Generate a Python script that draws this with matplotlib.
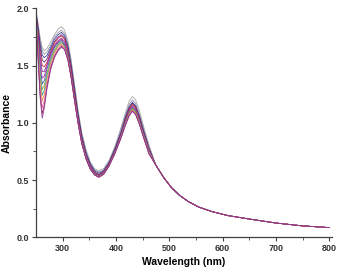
import numpy as np
import matplotlib
matplotlib.use("Agg")
import matplotlib.pyplot as plt

plt.rcParams["font.family"] = ["Liberation Sans", "DejaVu Sans"]

# wavelengths where the spectra differ from each other
wl_head = [250, 254, 258, 262, 266, 271, 278, 285, 292, 298, 304, 310, 316,
           322, 329, 336, 344, 352, 360, 368, 377, 387, 398, 409, 418, 425,
           431, 437, 444, 452, 462]
# shared tail (all spectra overlap past ~470 nm)
wl_tail = [475, 490, 505, 520, 535, 555, 580, 610, 650, 700, 750, 800]
abs_tail = [0.63, 0.52, 0.43, 0.365, 0.315, 0.265, 0.225, 0.19, 0.16, 0.125, 0.10, 0.085]

# one row per spectrum, top to bottom
abs_head = [
    [1.99, 1.88, 1.75, 1.66, 1.63, 1.65, 1.71, 1.77, 1.82, 1.84, 1.81, 1.72, 1.56, 1.36, 1.12, 0.92, 0.77, 0.66, 0.60, 0.58, 0.60, 0.67, 0.79, 0.95, 1.09, 1.19, 1.23, 1.20, 1.11, 0.97, 0.81],
    [1.98, 1.86, 1.72, 1.63, 1.60, 1.62, 1.68, 1.75, 1.79, 1.81, 1.78, 1.69, 1.53, 1.33, 1.10, 0.90, 0.75, 0.65, 0.59, 0.57, 0.59, 0.66, 0.78, 0.93, 1.07, 1.16, 1.20, 1.17, 1.08, 0.95, 0.79],
    [1.97, 1.84, 1.69, 1.59, 1.57, 1.59, 1.66, 1.73, 1.77, 1.79, 1.76, 1.67, 1.51, 1.31, 1.08, 0.89, 0.74, 0.64, 0.58, 0.56, 0.58, 0.65, 0.77, 0.91, 1.05, 1.14, 1.18, 1.15, 1.06, 0.93, 0.78],
    [1.97, 1.82, 1.66, 1.55, 1.53, 1.56, 1.64, 1.71, 1.75, 1.77, 1.74, 1.65, 1.49, 1.29, 1.06, 0.87, 0.72, 0.63, 0.57, 0.55, 0.575, 0.645, 0.76, 0.90, 1.04, 1.13, 1.17, 1.14, 1.05, 0.92, 0.77],
    [1.96, 1.80, 1.62, 1.50, 1.49, 1.53, 1.62, 1.70, 1.74, 1.76, 1.73, 1.63, 1.47, 1.27, 1.05, 0.86, 0.715, 0.62, 0.565, 0.545, 0.57, 0.64, 0.75, 0.89, 1.03, 1.12, 1.16, 1.13, 1.04, 0.91, 0.77],
    [1.96, 1.78, 1.58, 1.45, 1.45, 1.51, 1.61, 1.68, 1.72, 1.74, 1.71, 1.61, 1.45, 1.25, 1.03, 0.85, 0.705, 0.615, 0.56, 0.54, 0.565, 0.635, 0.745, 0.885, 1.02, 1.11, 1.15, 1.12, 1.03, 0.905, 0.765],
    [1.95, 1.75, 1.53, 1.39, 1.41, 1.50, 1.60, 1.67, 1.71, 1.73, 1.69, 1.59, 1.43, 1.24, 1.02, 0.84, 0.70, 0.61, 0.555, 0.535, 0.56, 0.63, 0.74, 0.88, 1.01, 1.10, 1.14, 1.11, 1.02, 0.90, 0.76],
    [1.95, 1.73, 1.49, 1.34, 1.37, 1.47, 1.58, 1.66, 1.70, 1.72, 1.68, 1.58, 1.42, 1.23, 1.02, 0.835, 0.70, 0.605, 0.555, 0.535, 0.56, 0.63, 0.74, 0.875, 1.005, 1.095, 1.135, 1.105, 1.015, 0.895, 0.755],
    [1.94, 1.70, 1.44, 1.29, 1.33, 1.44, 1.56, 1.64, 1.69, 1.71, 1.67, 1.58, 1.42, 1.23, 1.01, 0.83, 0.695, 0.60, 0.55, 0.53, 0.555, 0.625, 0.735, 0.87, 1.00, 1.09, 1.13, 1.10, 1.01, 0.89, 0.75],
    [1.94, 1.68, 1.40, 1.24, 1.29, 1.41, 1.54, 1.62, 1.68, 1.70, 1.67, 1.57, 1.41, 1.22, 1.01, 0.83, 0.695, 0.60, 0.55, 0.53, 0.555, 0.625, 0.735, 0.87, 0.995, 1.085, 1.125, 1.095, 1.005, 0.885, 0.745],
    [1.93, 1.65, 1.35, 1.19, 1.25, 1.38, 1.52, 1.61, 1.67, 1.69, 1.66, 1.56, 1.41, 1.22, 1.005, 0.825, 0.69, 0.60, 0.55, 0.53, 0.555, 0.625, 0.735, 0.865, 0.99, 1.08, 1.12, 1.09, 1.00, 0.88, 0.74],
    [1.93, 1.62, 1.30, 1.13, 1.20, 1.35, 1.50, 1.59, 1.65, 1.68, 1.65, 1.56, 1.40, 1.21, 1.00, 0.825, 0.69, 0.60, 0.545, 0.525, 0.55, 0.62, 0.73, 0.865, 0.985, 1.07, 1.11, 1.08, 0.995, 0.875, 0.735],
    [1.92, 1.59, 1.25, 1.08, 1.16, 1.32, 1.48, 1.58, 1.64, 1.67, 1.64, 1.55, 1.40, 1.21, 1.00, 0.82, 0.685, 0.595, 0.545, 0.525, 0.55, 0.62, 0.73, 0.86, 0.98, 1.065, 1.105, 1.075, 0.99, 0.87, 0.73],
    [1.92, 1.57, 1.22, 1.04, 1.13, 1.30, 1.47, 1.57, 1.63, 1.66, 1.64, 1.55, 1.40, 1.21, 1.00, 0.82, 0.685, 0.595, 0.545, 0.525, 0.55, 0.62, 0.73, 0.86, 0.98, 1.06, 1.10, 1.07, 0.99, 0.87, 0.73],
]

colors = ["#a0a0a0", "#8a8aa0", "#2a3090", "#5a2a7a", "#d02030", "#7a2a90",
          "#c02aa0", "#3050c0", "#9a9a30", "#30a0a0", "#e09030", "#f070b0",
          "#a02050", "#8a3a9a"]

fig = plt.figure(figsize=(3.38, 2.70), dpi=100)
ax = fig.add_axes([0.106, 0.121, 0.876, 0.848])

for row, c in zip(abs_head, colors):
    ax.plot(wl_head + wl_tail, row + abs_tail, color=c, lw=0.55)

ax.set_xlim(250, 805)
ax.set_ylim(0, 2.0)
ax.set_xticks([300, 400, 500, 600, 700, 800])
ax.set_xticks([350, 450, 550, 650, 750], minor=True)
ax.set_yticks([0.0, 0.5, 1.0, 1.5, 2.0])
ax.set_yticks([0.25, 0.75, 1.25, 1.75], minor=True)
ax.yaxis.set_major_formatter(plt.FormatStrFormatter("%.1f"))

for s in ["top", "right"]:
    ax.spines[s].set_visible(False)
for s in ["left", "bottom"]:
    ax.spines[s].set_color("#404040")
    ax.spines[s].set_linewidth(0.9)

ax.tick_params(which="major", length=3, width=0.8, color="#404040",
               labelsize=6.5, pad=2)
ax.tick_params(which="minor", length=2, width=0.6, color="#404040")
for lab in ax.get_xticklabels() + ax.get_yticklabels():
    lab.set_fontweight("bold")
    lab.set_color("#333333")

ax.set_xlabel("Wavelength (nm)", fontsize=7.5, fontweight="bold", labelpad=3)
ax.set_ylabel("Absorbance", fontsize=7.5, fontweight="bold", labelpad=3)

fig.savefig("out.png", dpi=100)
